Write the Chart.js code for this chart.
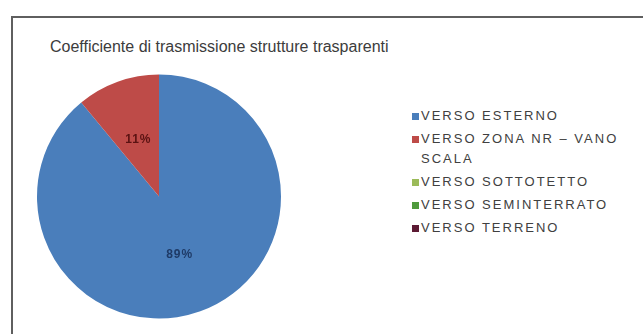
<!DOCTYPE html>
<html>
<head>
<meta charset="utf-8">
<script src="https://cdn.jsdelivr.net/npm/chart.js@4"></script>
<style>
  html, body { margin: 0; padding: 0; background: #fff; }
  #wrap { position: relative; width: 643px; height: 334px; overflow: hidden; font-family: "Liberation Sans", Arial, sans-serif; }
  #frame { position: absolute; left: 11px; top: 16px; width: 700px; height: 400px; border-left: 2px solid #5f5f5f; border-top: 2px solid #5f5f5f; }
  #title { position: absolute; left: 50px; top: 38px; font-size: 16px; color: #3c3c3c; white-space: nowrap; }
  #legend { position: absolute; left: 412px; top: 106px; margin: 0; padding: 0; list-style: none; font-size: 13px; color: #404040; letter-spacing: 2px; }
  #legend li { position: relative; padding-left: 9px; line-height: 20px; margin-bottom: 3px; width: 220px; }
  #legend .box { position: absolute; left: 0; top: 7px; width: 7px; height: 7px; }
  #chart { position: absolute; left: 0; top: 0; width: 643px; height: 334px; }
</style>
</head>
<body>
<div id="wrap">
  <div id="frame"></div>
  <div id="title">Coefficiente di trasmissione strutture trasparenti</div>
  <ul id="legend"></ul>
  <div id="chart"><canvas id="pie"></canvas></div>
</div>
<script>
const categories = [
  'VERSO ESTERNO',
  'VERSO ZONA NR – VANO SCALA',
  'VERSO SOTTOTETTO',
  'VERSO SEMINTERRATO',
  'VERSO TERRENO',
];
const shares = [89, 11, 0, 0, 0];
const sliceColors = ['#4a7ebb', '#be4b48', '#9bbb59', '#4f9a3c', '#5c1a33'];
const labelColors = ['#1e3a66', '#5a1212', '#3c4d20', '#204018', '#2a0a14'];

// percentage text in the middle of each slice
const sliceLabels = {
  id: 'sliceLabels',
  afterDatasetsDraw(chart) {
    const ctx = chart.ctx;
    const meta = chart.getDatasetMeta(0);
    const data = chart.data.datasets[0].data;
    const total = data.reduce((a, b) => a + b, 0);
    ctx.save();
    ctx.font = 'bold 12px "Liberation Sans", Arial, sans-serif';
    ctx.letterSpacing = '1px';
    ctx.textAlign = 'center';
    ctx.textBaseline = 'middle';
    meta.data.forEach((arc, i) => {
      if (!data[i]) return;
      const p = arc.tooltipPosition();
      ctx.fillStyle = labelColors[i];
      ctx.fillText(Math.round(data[i] / total * 100) + '%', p.x, p.y + 1);
    });
    ctx.restore();
  }
};

const legend = document.getElementById('legend');
categories.forEach((name, i) => {
  const li = document.createElement('li');
  const box = document.createElement('span');
  box.className = 'box';
  box.style.background = sliceColors[i];
  li.append(box, document.createTextNode(name));
  legend.append(li);
});

new Chart(document.getElementById('pie'), {
  type: 'pie',
  data: {
    labels: categories,
    datasets: [{
      data: shares,
      backgroundColor: sliceColors,
      borderWidth: 0,
    }]
  },
  options: {
    responsive: true,
    maintainAspectRatio: false,
    animation: false,
    layout: { padding: { left: 37, right: 362, top: 73, bottom: 14 } },
    plugins: {
      legend: { display: false },
      tooltip: { enabled: false },
    }
  },
  plugins: [sliceLabels]
});
</script>
</body>
</html>
